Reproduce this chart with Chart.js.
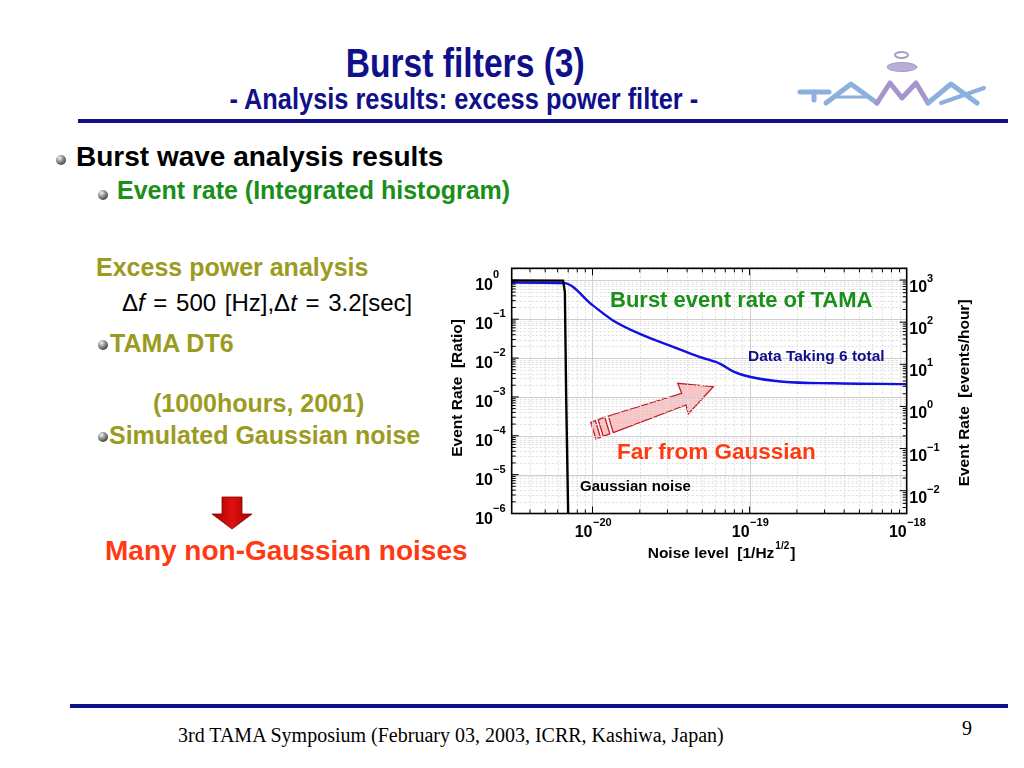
<!DOCTYPE html>
<html>
<head>
<meta charset="utf-8">
<script src="https://cdn.jsdelivr.net/npm/chart.js@4/dist/chart.umd.min.js"></script>
<style>
html, body { margin: 0; padding: 0; background: #fff; }
body { width: 1024px; height: 768px; position: relative; overflow: hidden; font-family: "Liberation Sans", Arial, sans-serif; }
.t { position: absolute; white-space: nowrap; line-height: 1; font-weight: bold; }
.narrow span { display: inline-block; transform: scaleX(0.84); transform-origin: 50% 50%; }
.dot { position: absolute; width: 10px; height: 10px; border-radius: 50%;
  background: radial-gradient(circle at 35% 30%, #f4f4f4 0, #9a9a9a 35%, #3a3a3a 80%, #222 100%); }
.rule { position: absolute; left: 78px; width: 930px; height: 4px; background: #10108a; }
#wrap { position: absolute; left: 430px; top: 250px; width: 580px; height: 330px; }
svg.over { position: absolute; left: 0; top: 0; pointer-events: none; }
</style>
</head>
<body>

<div class="t narrow" style="left:0;width:930px;text-align:center;top:43px;font-size:40px;color:#10108a;"><span>Burst filters (3)</span></div>
<div class="t narrow" style="left:0;width:928px;text-align:center;top:85px;font-size:29px;color:#10108a;"><span style="transform:scaleX(0.875);">- Analysis results: excess power filter -</span></div>
<div class="rule" style="top:119px;"></div>

<svg class="over" width="1024" height="768">
  <!-- TAMA logo -->
  <g fill="none" stroke-linecap="round" stroke-linejoin="round">
    <ellipse cx="901.5" cy="55" rx="6.5" ry="3" stroke="#a79bc9" stroke-width="2"/>
    <ellipse cx="902" cy="67" rx="15" ry="4.5" fill="#b9aed8" stroke="#a79bc9" stroke-width="1"/>
    <polyline points="800,92 829,92" stroke="#8cb0dd" stroke-width="5"/>
    <polyline points="814,92 814,100" stroke="#8cb0dd" stroke-width="5"/>
    <polyline points="826,103 851,84 877,103" stroke="#8cb0dd" stroke-width="5"/>
    <polyline points="836,97 866,97" stroke="#8cb0dd" stroke-width="3"/>
    <polyline points="877,103 890,83 902,98 916,83 928,103" stroke="#a496cc" stroke-width="5"/>
    <polyline points="928,103 951,84 977,103" stroke="#8cb0dd" stroke-width="5"/>
    <polyline points="941,103 984,88" stroke="#8cb0dd" stroke-width="4"/>
  </g>
  <!-- down arrow -->
  <defs>
    <linearGradient id="rg" x1="0" x2="1" y1="0" y2="0">
      <stop offset="0" stop-color="#a00000"/>
      <stop offset="0.5" stop-color="#e01010"/>
      <stop offset="1" stop-color="#a00000"/>
    </linearGradient>
  </defs>
  <polygon points="222,497 242,497 242,514 252,514 232,529 212,514 222,514" fill="url(#rg)" stroke="#8a0000" stroke-width="0.8"/>
  <!-- pink arrow on the chart -->
  <polygon points="608.3,416 681.7,393.3 677.7,383.3 713.3,386.7 688.3,414 686,405 613.3,432.7" fill="#f9c4c4" stroke="#c41c2c" stroke-width="1.3"/>
  <polygon points="604.8,417.2 598.2,419.6 603.2,436.3 609.8,433.9" fill="#f9c4c4" stroke="#c41c2c" stroke-width="1.3"/>
  <polygon points="595.4,420.6 590.8,422.3 595.8,439 600.4,437.3" fill="#f9c4c4" stroke="#c41c2c" stroke-width="1.3"/>
</svg>

<div class="dot" style="left:56px;top:155px;"></div>
<div class="t" style="left:76px;top:143px;font-size:28px;color:#000;">Burst wave analysis results</div>
<div class="dot" style="left:98px;top:190px;"></div>
<div class="t" style="left:117px;top:178px;font-size:25px;color:#1a8f1a;">Event rate (Integrated histogram)</div>

<div class="t" style="left:96px;top:255px;font-size:25px;color:#9b9b1f;">Excess power analysis</div>
<div class="t" style="left:122px;top:291px;font-size:24px;color:#000;font-weight:normal;word-spacing:2px;">&Delta;<i>f</i> = 500 [Hz],&Delta;<i>t</i> = 3.2[sec]</div>
<div class="dot" style="left:98px;top:340px;"></div>
<div class="t" style="left:110px;top:331px;font-size:25px;color:#9b9b1f;">TAMA DT6</div>
<div class="t" style="left:153px;top:391px;font-size:25px;color:#9b9b1f;">(1000hours, 2001)</div>
<div class="dot" style="left:98px;top:432px;"></div>
<div class="t" style="left:109px;top:423px;font-size:25px;color:#9b9b1f;">Simulated Gaussian noise</div>
<div class="t" style="left:105px;top:537px;font-size:28px;color:#ff3a12;">Many non-Gaussian noises</div>

<div id="wrap"><canvas id="c" width="580" height="330"></canvas></div>

<div class="t" style="left:610px;top:289px;font-size:22px;color:#1a8f1a;">Burst event rate of TAMA</div>
<div class="t" style="left:748px;top:348px;font-size:15.5px;color:#10108a;">Data Taking 6 total</div>
<div class="t" style="left:617px;top:441px;font-size:22.5px;color:#ff3a12;">Far from Gaussian</div>
<div class="t" style="left:580px;top:478px;font-size:15px;color:#000;">Gaussian noise</div>

<div class="rule" style="top:704px;left:70px;width:938px;"></div>
<div class="t" style="left:178px;top:725px;font-size:20px;font-weight:normal;font-family:'Liberation Serif','Times New Roman',serif;">3rd TAMA Symposium (February 03, 2003, ICRR, Kashiwa, Japan)</div>
<div class="t" style="left:962px;top:718px;font-size:20px;font-weight:normal;font-family:'Liberation Serif','Times New Roman',serif;">9</div>

<script>
// noise level [1/Hz^1/2] vs event rate [ratio]
var noiseDT6 = [3.06e-21, 6.6e-21, 1.0e-20, 1.35e-20, 2.0e-20, 3.26e-20, 4.8e-20, 6.5e-20, 7.9e-20, 1.0e-19, 1.64e-19, 3.4e-19, 1.0e-18];
var rateDT6 = [0.88, 0.85, 0.23, 0.093, 0.042, 0.0195, 0.0107, 0.0071, 0.0045, 0.0033, 0.00245, 0.00224, 0.00214];

var noiseGauss = [3.06e-21, 6.5e-21, 6.67e-21, 6.8e-21, 7.0e-21, 7.05e-21];
var rateGauss = [1.0, 0.98, 0.5, 1e-3, 1e-6, 1e-7];

var xRange = [3.06e-21, 1e-18];
var yRange = [1e-6, 2.04];
var y2Range = [2.88e-3, 1897];

var xDecades = [-20, -19, -18];
var yDecades = [0, -1, -2, -3, -4, -5, -6];
var y2Decades = [3, 2, 1, 0, -1, -2];

var FONT = '"Liberation Sans", Arial, sans-serif';

function toPoints(xs, ys) {
	var pts = [];
	for (var i in xs) pts.push({x: xs[i], y: ys[i]});
	return pts;
}

// integer-mantissa ticks of a log scale (1..9 x 10^k), without the end points
function logTicks(scale) {
	var out = [];
	scale.ticks.forEach(function(t) {
		var v = t.value;
		var e = Math.floor(Math.log10(v) + 1e-9);
		var m = v / Math.pow(10, e);
		if (Math.abs(m - Math.round(m)) < 1e-6 && v > scale.min * 1.0001 && v < scale.max * 0.9999)
			out.push({v: v, major: Math.round(m) === 1 || Math.round(m) === 10});
	});
	return out;
}

function expLabel(k) {
	return k < 0 ? '\u2212' + Math.abs(k) : String(k);
}

var framePlugin = {
	id: 'frame',
	beforeDatasetsDraw: function(chart) {
		var ctx = chart.ctx, a = chart.chartArea;
		var xs = chart.scales.x, ys = chart.scales.y;
		ctx.save();
		ctx.lineWidth = 1;
		logTicks(xs).forEach(function(t) {
			var px = Math.round(xs.getPixelForValue(t.v)) + 0.5;
			ctx.strokeStyle = t.major ? '#cfcfcf' : '#dedede';
			ctx.setLineDash(t.major ? [] : [2, 2]);
			ctx.beginPath(); ctx.moveTo(px, a.top); ctx.lineTo(px, a.bottom); ctx.stroke();
		});
		logTicks(ys).forEach(function(t) {
			var py = Math.round(ys.getPixelForValue(t.v)) + 0.5;
			ctx.strokeStyle = t.major ? '#cfcfcf' : '#dedede';
			ctx.setLineDash(t.major ? [] : [2, 2]);
			ctx.beginPath(); ctx.moveTo(a.left, py); ctx.lineTo(a.right, py); ctx.stroke();
		});
		ctx.restore();
	},
	afterDraw: function(chart) {
		var ctx = chart.ctx, a = chart.chartArea;
		var xs = chart.scales.x, ys = chart.scales.y, y2 = chart.scales.y2;
		ctx.save();
		// inner tick marks
		ctx.strokeStyle = '#000';
		ctx.lineWidth = 1;
		logTicks(xs).forEach(function(t) {
			var px = xs.getPixelForValue(t.v), len = t.major ? 7 : 4;
			ctx.beginPath();
			ctx.moveTo(px, a.bottom); ctx.lineTo(px, a.bottom - len);
			ctx.moveTo(px, a.top); ctx.lineTo(px, a.top + len);
			ctx.stroke();
		});
		logTicks(ys).forEach(function(t) {
			var py = ys.getPixelForValue(t.v), len = t.major ? 7 : 4;
			ctx.beginPath(); ctx.moveTo(a.left, py); ctx.lineTo(a.left + len, py); ctx.stroke();
		});
		logTicks(y2).forEach(function(t) {
			var py = y2.getPixelForValue(t.v), len = t.major ? 7 : 4;
			ctx.beginPath(); ctx.moveTo(a.right, py); ctx.lineTo(a.right - len, py); ctx.stroke();
		});
		// frame
		ctx.lineWidth = 1.6;
		ctx.strokeRect(a.left, a.top, a.right - a.left, a.bottom - a.top);

		ctx.fillStyle = '#000';
		// left tick labels
		yDecades.forEach(function(k) {
			var py = ys.getPixelForValue(Math.pow(10, k));
			ctx.font = 'bold 16px ' + FONT;
			ctx.textAlign = 'right';
			ctx.fillText('10', a.left - 18.7, py + 10);
			ctx.font = 'bold 11px ' + FONT;
			ctx.textAlign = 'left';
			ctx.fillText(expLabel(k), a.left - 18.7, py - 2);
		});
		// right tick labels
		y2Decades.forEach(function(k) {
			var py = y2.getPixelForValue(Math.pow(10, k));
			ctx.font = 'bold 16px ' + FONT;
			ctx.textAlign = 'left';
			ctx.fillText('10', a.right + 2.6, py + 12);
			var w = ctx.measureText('10').width;
			ctx.font = 'bold 11px ' + FONT;
			ctx.fillText(expLabel(k), a.right + 2.6 + w, py + 2);
		});
		// bottom tick labels
		xDecades.forEach(function(k) {
			var px = xs.getPixelForValue(Math.pow(10, k));
			ctx.font = 'bold 16px ' + FONT;
			ctx.textAlign = 'right';
			ctx.fillText('10', px, a.bottom + 23.5);
			ctx.font = 'bold 11px ' + FONT;
			ctx.textAlign = 'left';
			ctx.fillText(expLabel(k), px + 0.5, a.bottom + 12.5);
		});
		// axis titles
		var mid = (a.top + a.bottom) / 2;
		ctx.font = 'bold 15.5px ' + FONT;
		ctx.textAlign = 'center';
		ctx.textBaseline = 'middle';
		ctx.save();
		ctx.translate(a.left - 54, mid - 3);
		ctx.rotate(-Math.PI / 2);
		ctx.fillText('Event Rate  [Ratio]', 0, 0);
		ctx.restore();
		ctx.save();
		ctx.translate(a.right + 58.3, mid + 2);
		ctx.rotate(-Math.PI / 2);
		ctx.fillText('Event Rate  [events/hour]', 0, 0);
		ctx.restore();
		ctx.textBaseline = 'alphabetic';
		ctx.textAlign = 'left';
		var tx = a.left + 136, ty = a.bottom + 44.5;
		var part1 = 'Noise level  [1/Hz';
		ctx.fillText(part1, tx, ty);
		tx += ctx.measureText(part1).width + 1;
		ctx.font = 'bold 10px ' + FONT;
		ctx.fillText('1/2', tx, ty - 9);
		tx += ctx.measureText('1/2').width + 1;
		ctx.font = 'bold 15.5px ' + FONT;
		ctx.fillText(']', tx, ty);
		ctx.restore();
	}
};

var chartdata = {
	datasets: [
		{
			label: 'Gaussian noise',
			data: toPoints(noiseGauss, rateGauss),
			borderColor: '#000',
			borderWidth: 2.4,
			pointRadius: 0,
			tension: 0,
			yAxisID: 'y'
		},
		{
			label: 'Data Taking 6 total',
			data: toPoints(noiseDT6, rateDT6),
			borderColor: '#1010e0',
			borderWidth: 2.4,
			pointRadius: 0,
			cubicInterpolationMode: 'monotone',
			yAxisID: 'y'
		}
	]
};

function hiddenAxis(extra) {
	return Object.assign({
		ticks: {display: false},
		grid: {display: false, drawTicks: false, tickLength: 0},
		border: {display: false}
	}, extra);
}

new Chart(document.getElementById('c'), {
	type: 'line',
	data: chartdata,
	options: {
		responsive: false,
		animation: false,
		layout: {padding: {left: 81.7, right: 103.3, top: 18.3, bottom: 66.5}},
		plugins: {legend: {display: false}, tooltip: {enabled: false}},
		scales: {
			x: hiddenAxis({type: 'logarithmic', min: xRange[0], max: xRange[1]}),
			y: hiddenAxis({type: 'logarithmic', position: 'left', min: yRange[0], max: yRange[1]}),
			y2: hiddenAxis({type: 'logarithmic', position: 'right', min: y2Range[0], max: y2Range[1]})
		}
	},
	plugins: [framePlugin]
});
</script>
</body>
</html>
